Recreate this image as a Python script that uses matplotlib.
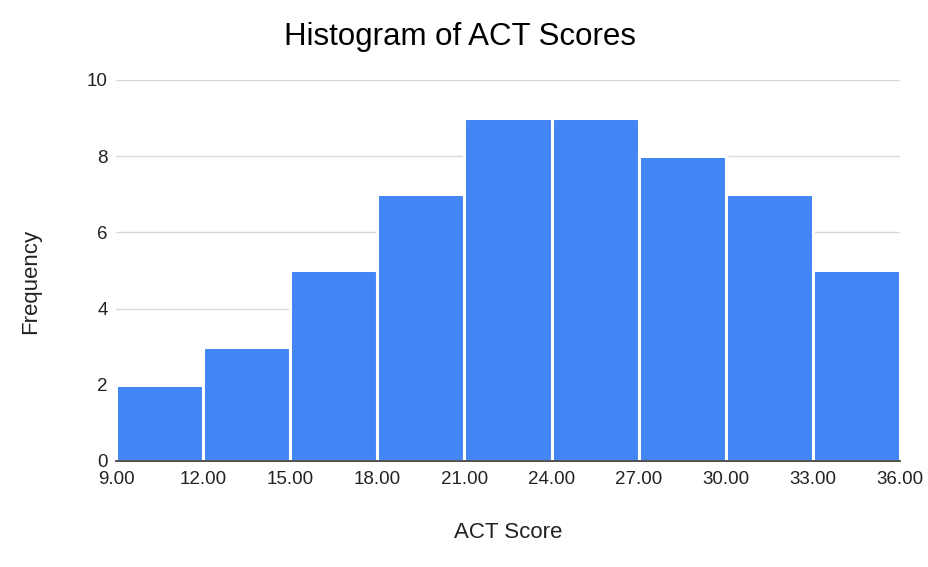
import matplotlib
matplotlib.use("Agg")
import matplotlib.pyplot as plt

bin_edges = [9, 12, 15, 18, 21, 24, 27, 30, 33, 36]
counts = [2, 3, 5, 7, 9, 9, 8, 7, 5]
y_ticks = [0, 2, 4, 6, 8, 10]

plt.rcParams['font.family'] = ['Liberation Sans', 'DejaVu Sans']

fig = plt.figure(figsize=(9.29, 5.67), dpi=100)
ax = fig.add_axes([0.1249, 0.187, 0.8439, 0.672])

widths = [b - a for a, b in zip(bin_edges[:-1], bin_edges[1:])]
ax.bar(bin_edges[:-1], counts, width=widths, align='edge',
       color='#4285F4', edgecolor='white', linewidth=2.2, zorder=2)

ax.set_xlim(bin_edges[0], bin_edges[-1])
ax.set_ylim(0, 10)
ax.set_xticks(bin_edges)
ax.set_xticklabels([f"{v:.2f}" for v in bin_edges])
ax.set_yticks(y_ticks)
ax.grid(axis='y', color='#d9d9d9', linewidth=1, zorder=0)
ax.tick_params(length=0, labelsize=13.5, labelcolor='#222222')
ax.tick_params(axis='y', pad=6)
ax.tick_params(axis='x', pad=7)
for s in ['top', 'right', 'left']:
    ax.spines[s].set_visible(False)
ax.spines['bottom'].set_color('#333333')
ax.spines['bottom'].set_linewidth(1.2)
ax.spines['bottom'].set_zorder(3)

fig.text(0.495, 0.935, 'Histogram of ACT Scores', ha='center', va='center',
         fontsize=22.5, color='#000000')
fig.text(0.547, 0.06, 'ACT Score', ha='center', va='center',
         fontsize=16, color='#222222')
fig.text(0.033, 0.504, 'Frequency', rotation=90, ha='center', va='center',
         fontsize=16, color='#222222')

fig.savefig('out.png', dpi=100)
